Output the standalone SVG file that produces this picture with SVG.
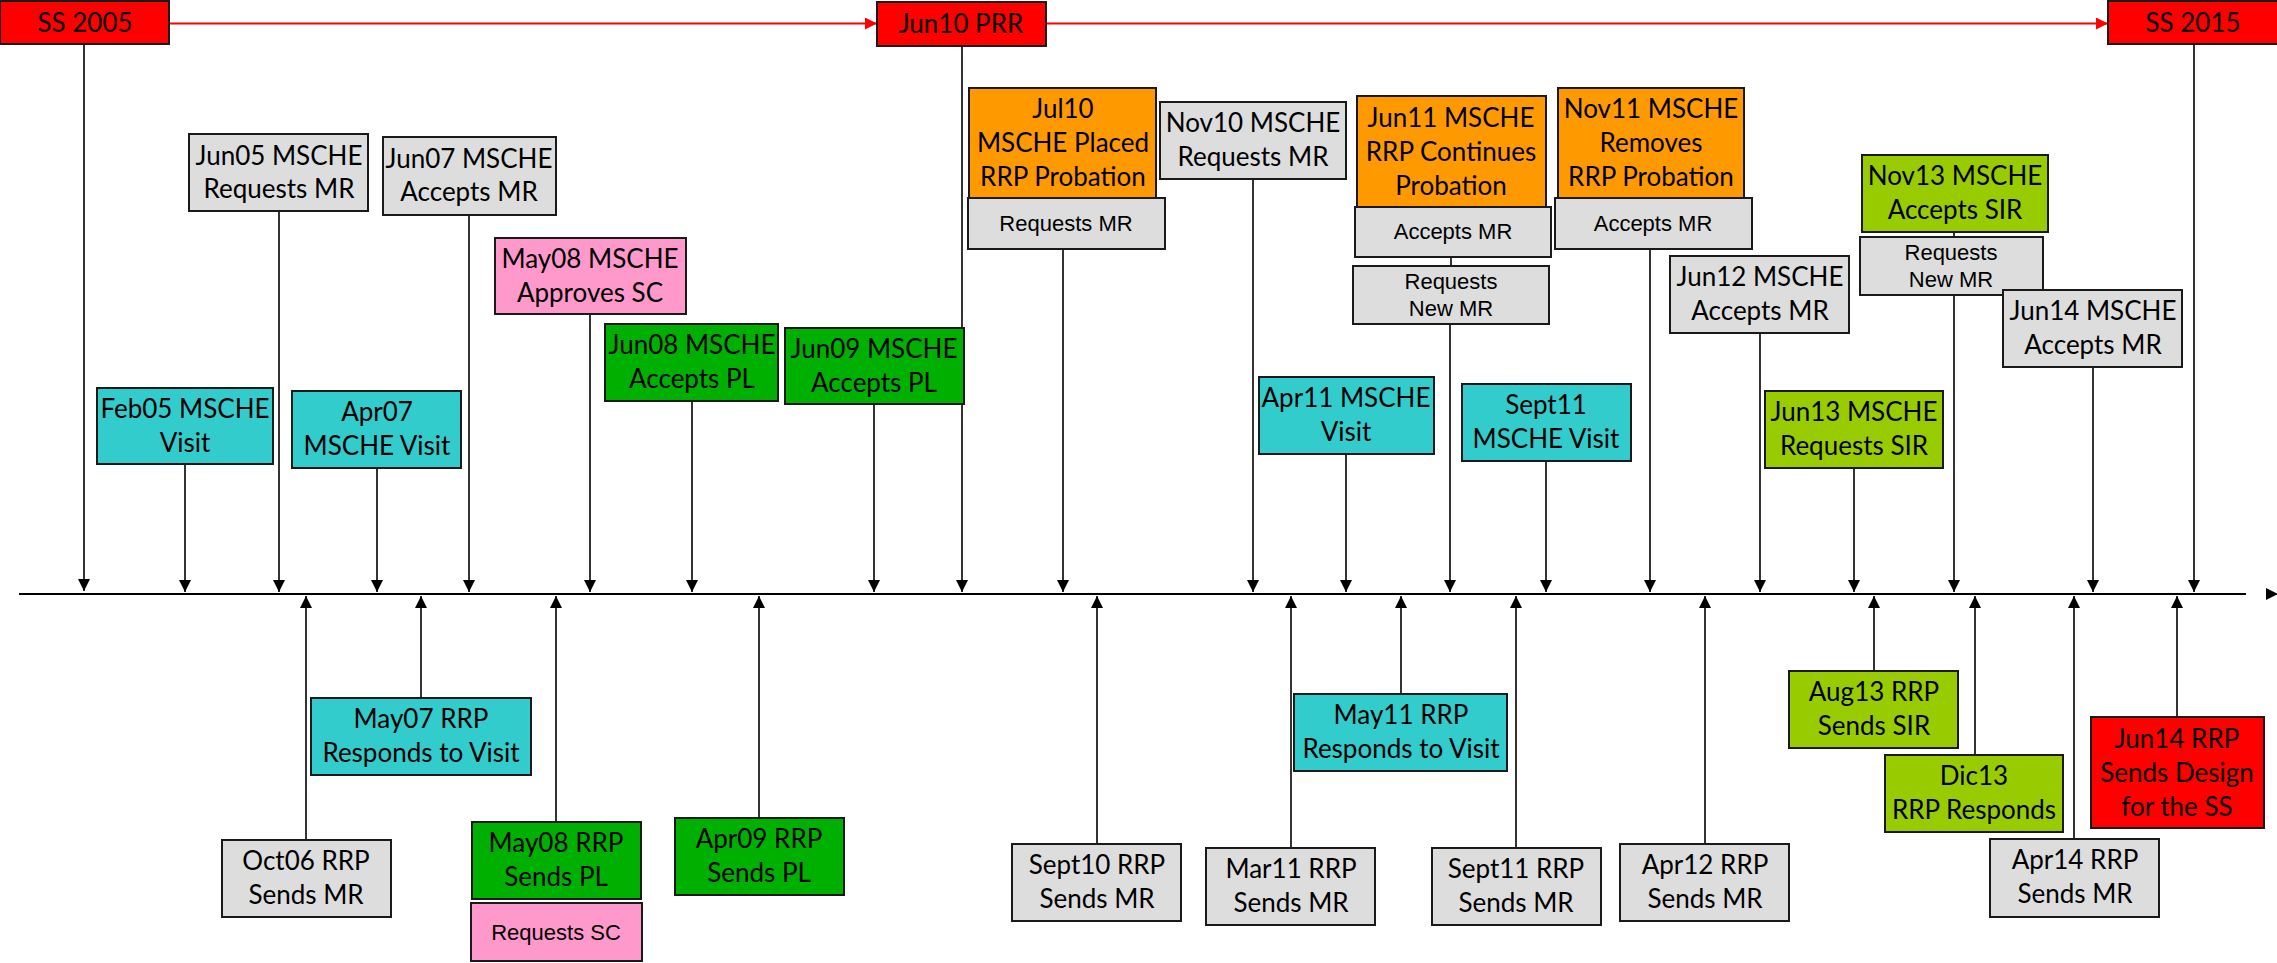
<svg xmlns="http://www.w3.org/2000/svg" width="2277" height="963" viewBox="0 0 2277 963">
<style>
.b{stroke:#1a1a1a;stroke-width:2}
.red{fill:#ff0000}.gray{fill:#dddddd}.cyan{fill:#33cccc}.pink{fill:#ff99cc}.green{fill:#00b000}.orange{fill:#ff9900}.lime{fill:#99cc00}
.t{font-family:Lato,"Liberation Sans",sans-serif;font-size:26px;text-anchor:middle;fill:#000}
.s{font-family:"Liberation Sans",Arial,sans-serif;font-size:22px;text-anchor:middle;fill:#000}
.c{stroke:#000;stroke-width:1.6;fill:none}
.r{stroke:#ff0000;stroke-width:2;fill:none}
</style>
<defs>
<marker id="ah" markerUnits="userSpaceOnUse" markerWidth="13" markerHeight="13" refX="12" refY="6" orient="auto"><path d="M0,0 L12,6 L0,12 z" fill="#000"/></marker>
<marker id="ahr" markerUnits="userSpaceOnUse" markerWidth="13" markerHeight="13" refX="12" refY="6" orient="auto"><path d="M0,0 L12,6 L0,12 z" fill="#ff0000"/></marker>
</defs>
<rect width="2277" height="963" fill="#fff"/>
<g id="connectors">
<line class="r" x1="169" y1="23.5" x2="877" y2="23.5" marker-end="url(#ahr)"/>
<line class="r" x1="1046" y1="23.5" x2="2108" y2="23.5" marker-end="url(#ahr)"/>
<line x1="19" y1="594" x2="2246" y2="594" stroke="#000" stroke-width="2.2"/>
<polygon points="2266,588 2278,594 2266,600" fill="#000"/>
<g class="c" marker-end="url(#ah)">
<line x1="84" y1="44" x2="84" y2="591"/>
<line x1="185" y1="464" x2="185" y2="592"/>
<line x1="279" y1="211" x2="279" y2="592"/>
<line x1="377" y1="468" x2="377" y2="592"/>
<line x1="469" y1="215" x2="469" y2="592"/>
<line x1="590" y1="314" x2="590" y2="592"/>
<line x1="692" y1="401" x2="692" y2="592"/>
<line x1="874" y1="404" x2="874" y2="592"/>
<line x1="962" y1="46" x2="962" y2="592"/>
<line x1="1063" y1="249" x2="1063" y2="592"/>
<line x1="1253" y1="179" x2="1253" y2="592"/>
<line x1="1346" y1="454" x2="1346" y2="592"/>
<line x1="1450" y1="324" x2="1450" y2="592"/>
<line x1="1546" y1="461" x2="1546" y2="592"/>
<line x1="1650" y1="249" x2="1650" y2="592"/>
<line x1="1760" y1="333" x2="1760" y2="592"/>
<line x1="1854" y1="468" x2="1854" y2="592"/>
<line x1="1954" y1="295" x2="1954" y2="592"/>
<line x1="2093" y1="367" x2="2093" y2="592"/>
<line x1="2194" y1="44" x2="2194" y2="592"/>
<line x1="306" y1="840" x2="306" y2="596"/>
<line x1="421" y1="698" x2="421" y2="596"/>
<line x1="556" y1="822" x2="556" y2="596"/>
<line x1="759" y1="818" x2="759" y2="596"/>
<line x1="1097" y1="844" x2="1097" y2="596"/>
<line x1="1291" y1="848" x2="1291" y2="596"/>
<line x1="1401" y1="694" x2="1401" y2="596"/>
<line x1="1516" y1="848" x2="1516" y2="596"/>
<line x1="1705" y1="844" x2="1705" y2="596"/>
<line x1="1874" y1="671" x2="1874" y2="596"/>
<line x1="1975" y1="755" x2="1975" y2="596"/>
<line x1="2074" y1="839" x2="2074" y2="596"/>
<line x1="2177" y1="717" x2="2177" y2="596"/>
</g>
<line class="c" x1="1451" y1="257" x2="1451" y2="266"/>
<line class="c" x1="1954" y1="232" x2="1954" y2="237"/>
</g>
<g id="ss2005"><rect class="b red" x="0" y="1" width="169" height="43"/><text class="t" x="85" y="32">SS 2005</text></g>
<g id="jun10prr"><rect class="b red" x="877" y="2" width="169" height="44"/><text class="t" x="961" y="33">Jun10 PRR</text></g>
<g id="ss2015"><rect class="b red" x="2108" y="1" width="172" height="43"/><text class="t" x="2193" y="32">SS 2015</text></g>
<g id="jun05"><rect class="b gray" x="189" y="134" width="179" height="77"/><text class="t" x="279" y="165">Jun05 MSCHE</text><text class="t" x="279" y="198">Requests MR</text></g>
<g id="jun07"><rect class="b gray" x="383" y="137" width="173" height="78"/><text class="t" x="469" y="168">Jun07 MSCHE</text><text class="t" x="469" y="201">Accepts MR</text></g>
<g id="may08m"><rect class="b pink" x="495" y="238" width="191" height="76"/><text class="t" x="590" y="268">May08 MSCHE</text><text class="t" x="590" y="302">Approves SC</text></g>
<g id="jun08m"><rect class="b green" x="605" y="324" width="173" height="77"/><text class="t" x="692" y="354">Jun08 MSCHE</text><text class="t" x="692" y="388">Accepts PL</text></g>
<g id="feb05"><rect class="b cyan" x="97" y="388" width="176" height="76"/><text class="t" x="185" y="418">Feb05 MSCHE</text><text class="t" x="185" y="452">Visit</text></g>
<g id="apr07"><rect class="b cyan" x="292" y="391" width="169" height="77"/><text class="t" x="377" y="421">Apr07</text><text class="t" x="377" y="455">MSCHE Visit</text></g>
<g id="jun09m"><rect class="b green" x="785" y="328" width="179" height="76"/><text class="t" x="874" y="358">Jun09 MSCHE</text><text class="t" x="874" y="392">Accepts PL</text></g>
<g id="jul10"><rect class="b orange" x="969" y="88" width="187" height="110"/><text class="t" x="1063" y="118">Jul10</text><text class="t" x="1063" y="152">MSCHE Placed</text><text class="t" x="1063" y="186">RRP Probation</text></g>
<g id="jul10req"><rect class="b gray" x="968" y="198" width="197" height="51"/><text class="s" x="1066" y="231">Requests MR</text></g>
<g id="nov10"><rect class="b gray" x="1160" y="102" width="186" height="77"/><text class="t" x="1253" y="132">Nov10 MSCHE</text><text class="t" x="1253" y="166">Requests MR</text></g>
<g id="jun11"><rect class="b orange" x="1357" y="96" width="189" height="111"/><text class="t" x="1451" y="127">Jun11 MSCHE</text><text class="t" x="1451" y="161">RRP Continues</text><text class="t" x="1451" y="195">Probation</text></g>
<g id="jun11acc"><rect class="b gray" x="1355" y="207" width="196" height="50"/><text class="s" x="1453" y="239">Accepts MR</text></g>
<g id="jun11req"><rect class="b gray" x="1353" y="266" width="196" height="58"/><text class="s" x="1451" y="289">Requests</text><text class="s" x="1451" y="316">New MR</text></g>
<g id="apr11"><rect class="b cyan" x="1259" y="377" width="175" height="77"/><text class="t" x="1346" y="407">Apr11 MSCHE</text><text class="t" x="1346" y="441">Visit</text></g>
<g id="sept11m"><rect class="b cyan" x="1462" y="384" width="169" height="77"/><text class="t" x="1546" y="414">Sept11</text><text class="t" x="1546" y="448">MSCHE Visit</text></g>
<g id="nov11"><rect class="b orange" x="1558" y="88" width="186" height="110"/><text class="t" x="1651" y="118">Nov11 MSCHE</text><text class="t" x="1651" y="152">Removes</text><text class="t" x="1651" y="186">RRP Probation</text></g>
<g id="nov11acc"><rect class="b gray" x="1555" y="198" width="197" height="51"/><text class="s" x="1653" y="231">Accepts MR</text></g>
<g id="jun12"><rect class="b gray" x="1670" y="256" width="179" height="77"/><text class="t" x="1760" y="286">Jun12 MSCHE</text><text class="t" x="1760" y="320">Accepts MR</text></g>
<g id="nov13"><rect class="b lime" x="1862" y="155" width="186" height="77"/><text class="t" x="1955" y="185">Nov13 MSCHE</text><text class="t" x="1955" y="219">Accepts SIR</text></g>
<g id="nov13req"><rect class="b gray" x="1860" y="237" width="183" height="58"/><text class="s" x="1951" y="260">Requests</text><text class="s" x="1951" y="287">New MR</text></g>
<g id="jun14m"><rect class="b gray" x="2003" y="290" width="179" height="77"/><text class="t" x="2093" y="320">Jun14 MSCHE</text><text class="t" x="2093" y="354">Accepts MR</text></g>
<g id="jun13m"><rect class="b lime" x="1765" y="391" width="178" height="77"/><text class="t" x="1854" y="421">Jun13 MSCHE</text><text class="t" x="1854" y="455">Requests SIR</text></g>
<g id="oct06"><rect class="b gray" x="222" y="840" width="169" height="77"/><text class="t" x="306" y="870">Oct06 RRP</text><text class="t" x="306" y="904">Sends MR</text></g>
<g id="may07"><rect class="b cyan" x="311" y="698" width="220" height="77"/><text class="t" x="421" y="728">May07 RRP</text><text class="t" x="421" y="762">Responds to Visit</text></g>
<g id="may08r"><rect class="b green" x="472" y="822" width="169" height="77"/><text class="t" x="556" y="852">May08 RRP</text><text class="t" x="556" y="886">Sends PL</text></g>
<g id="may08req"><rect class="b pink" x="471" y="903" width="171" height="58"/><text class="s" x="556" y="940">Requests SC</text></g>
<g id="apr09"><rect class="b green" x="675" y="818" width="169" height="77"/><text class="t" x="759" y="848">Apr09 RRP</text><text class="t" x="759" y="882">Sends PL</text></g>
<g id="sept10"><rect class="b gray" x="1012" y="844" width="169" height="77"/><text class="t" x="1097" y="874">Sept10 RRP</text><text class="t" x="1097" y="908">Sends MR</text></g>
<g id="mar11"><rect class="b gray" x="1206" y="848" width="169" height="77"/><text class="t" x="1291" y="878">Mar11 RRP</text><text class="t" x="1291" y="912">Sends MR</text></g>
<g id="may11"><rect class="b cyan" x="1294" y="694" width="213" height="77"/><text class="t" x="1401" y="724">May11 RRP</text><text class="t" x="1401" y="758">Responds to Visit</text></g>
<g id="sept11r"><rect class="b gray" x="1432" y="848" width="169" height="77"/><text class="t" x="1516" y="878">Sept11 RRP</text><text class="t" x="1516" y="912">Sends MR</text></g>
<g id="apr12"><rect class="b gray" x="1620" y="844" width="169" height="77"/><text class="t" x="1705" y="874">Apr12 RRP</text><text class="t" x="1705" y="908">Sends MR</text></g>
<g id="aug13"><rect class="b lime" x="1789" y="671" width="169" height="77"/><text class="t" x="1874" y="701">Aug13 RRP</text><text class="t" x="1874" y="735">Sends SIR</text></g>
<g id="dic13"><rect class="b lime" x="1885" y="755" width="178" height="77"/><text class="t" x="1974" y="785">Dic13</text><text class="t" x="1974" y="819">RRP Responds</text></g>
<g id="apr14"><rect class="b gray" x="1990" y="839" width="169" height="78"/><text class="t" x="2075" y="869">Apr14 RRP</text><text class="t" x="2075" y="903">Sends MR</text></g>
<g id="jun14r"><rect class="b red" x="2091" y="717" width="173" height="111"/><text class="t" x="2177" y="748">Jun14 RRP</text><text class="t" x="2177" y="782">Sends Design</text><text class="t" x="2177" y="816">for the SS</text></g>
</svg>
